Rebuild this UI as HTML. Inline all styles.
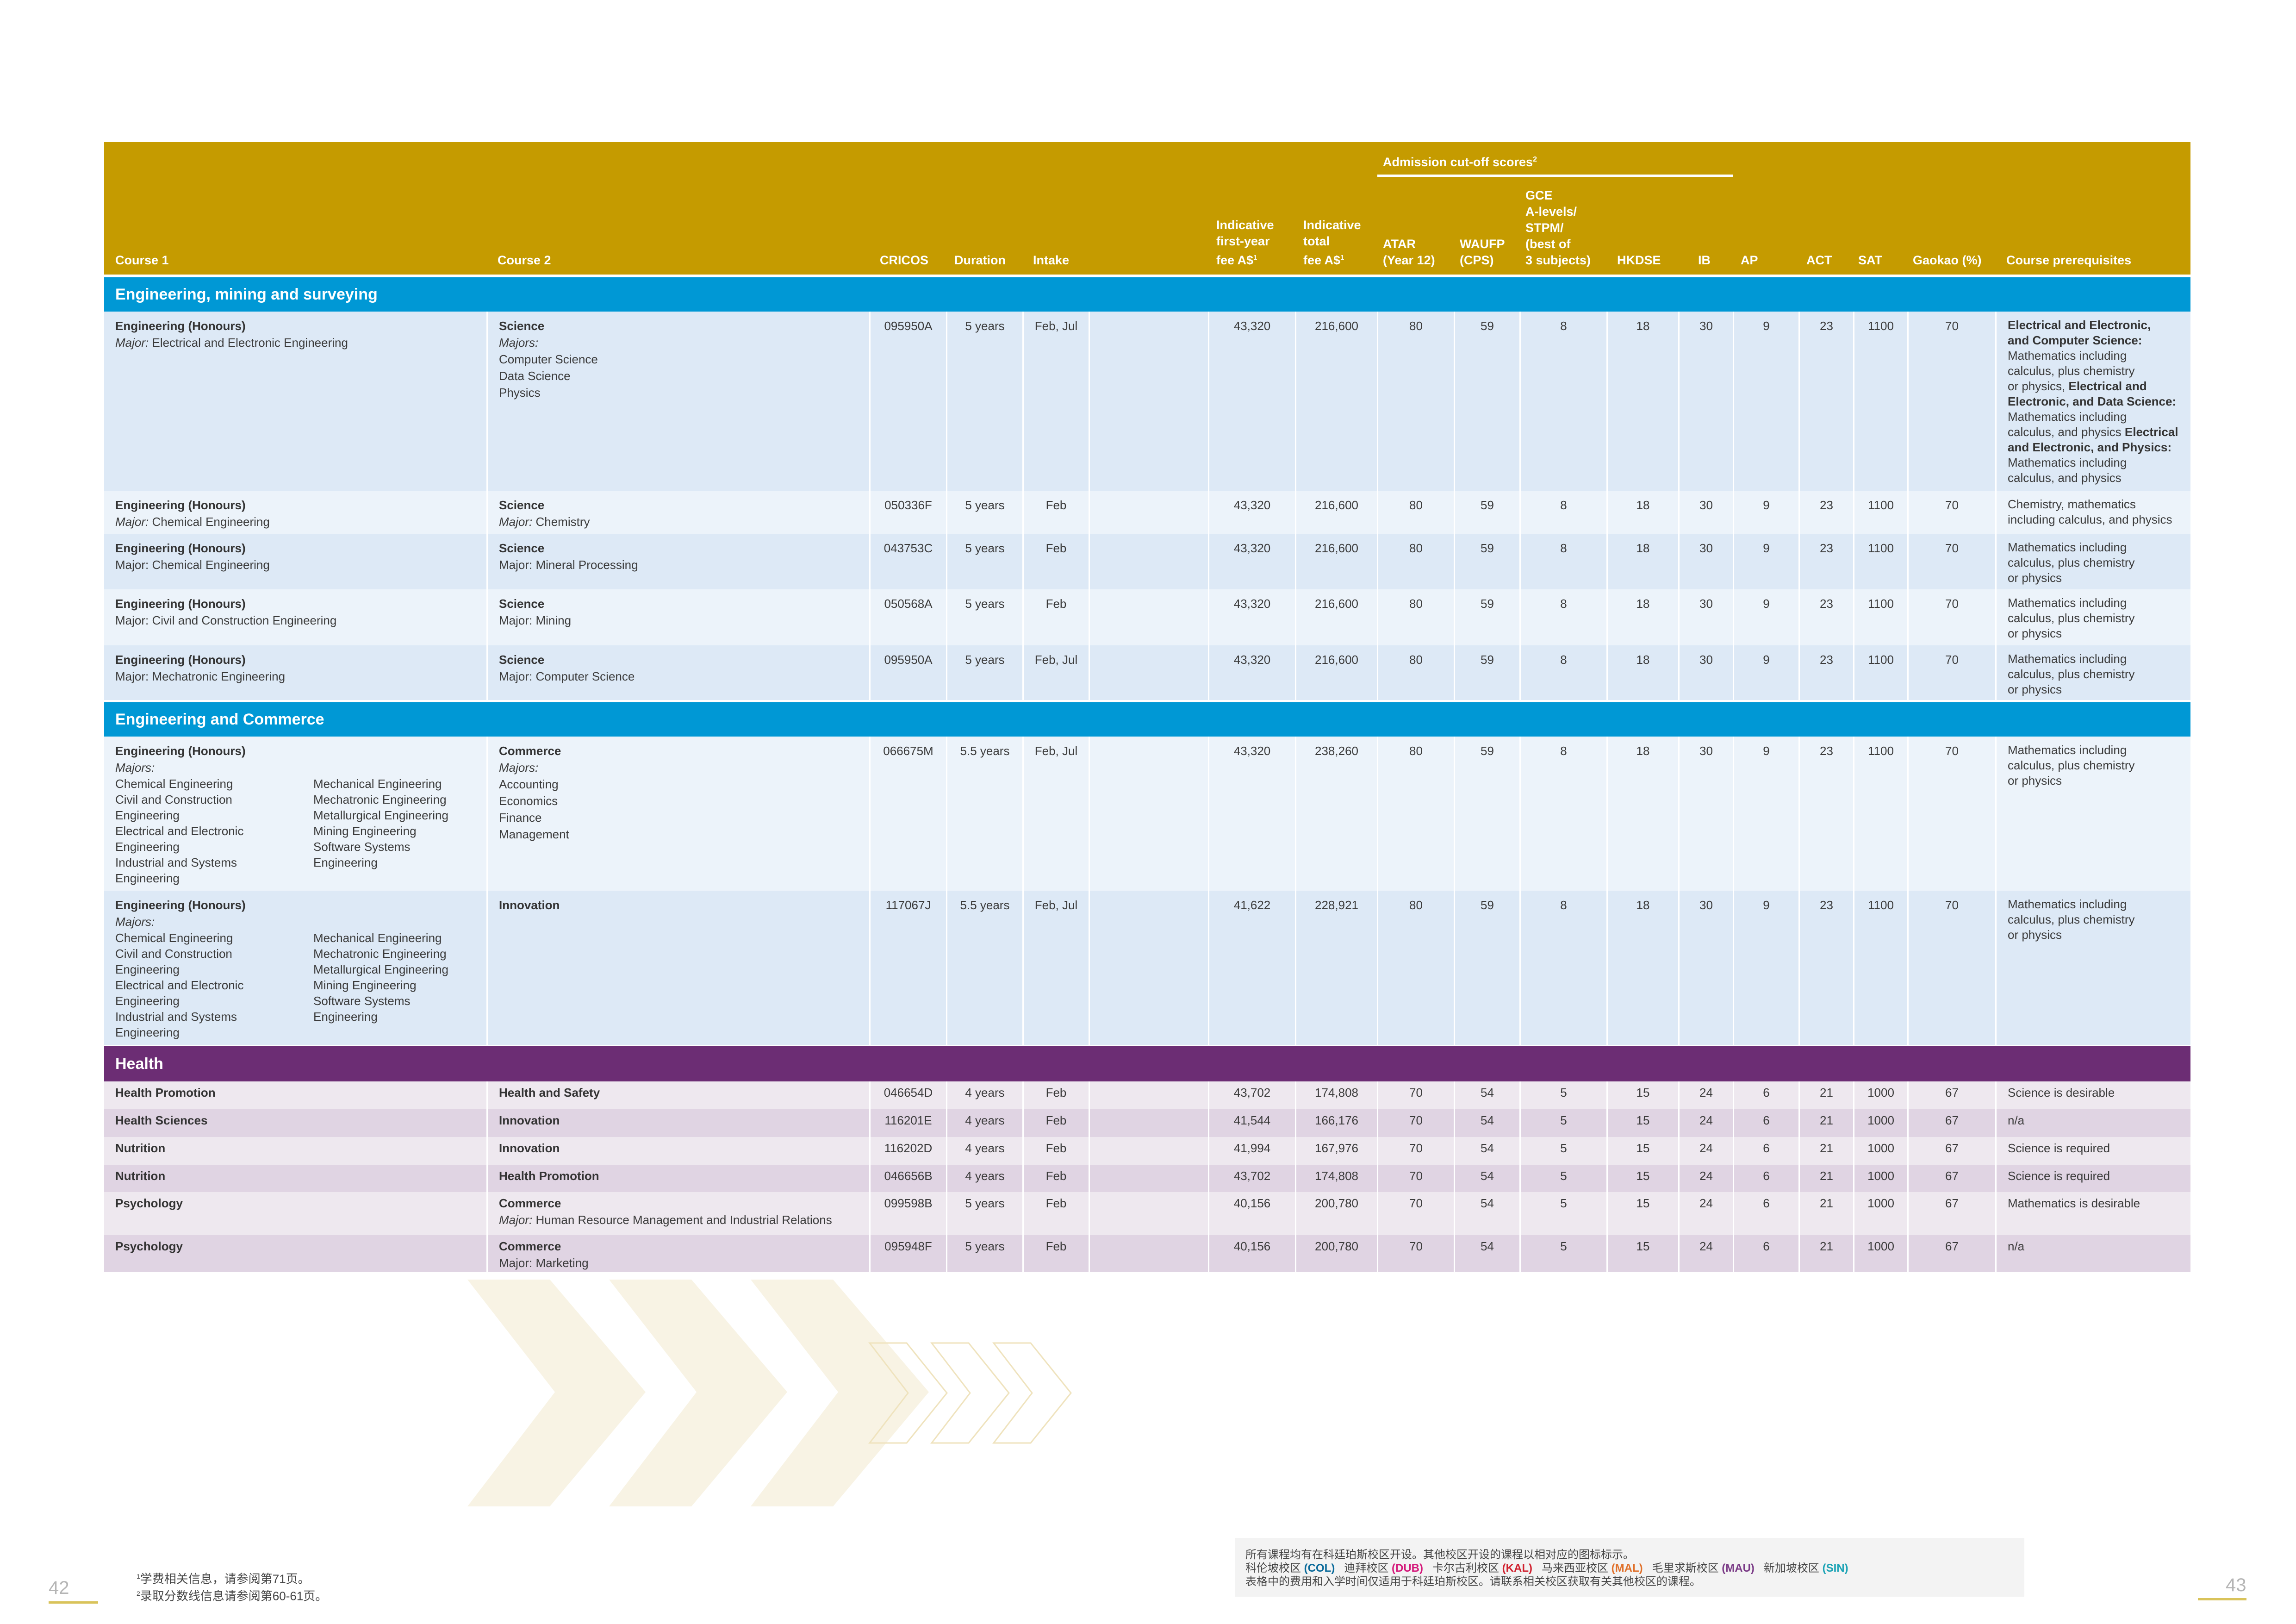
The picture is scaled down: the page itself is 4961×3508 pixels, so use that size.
<!DOCTYPE html>
<html><head><meta charset="utf-8"><style>
*{margin:0;padding:0;box-sizing:border-box}
body{width:4961px;height:3508px;background:#fff;position:relative;overflow:hidden;font-family:"Liberation Sans","Noto Sans CJK SC",sans-serif;color:#3b3b3b}
.r{position:absolute;left:225px;width:4508px;display:grid;grid-template-columns:826px 827px 166px 165px 143px 258px 188px 177px 166px 142px 188px 155px 118px 142px 118px 117px 190px 422px}
.r>div{border-left:3px solid #fff;padding:13px 10px 0 24px;font-size:26px;line-height:36px;overflow:hidden;white-space:nowrap}
.r>div:first-child{border-left:none}
.r>div.c{text-align:center;padding-left:10px}
.d{background:#DDE9F6}.l{background:#ECF3FA}
.hd{background:#E0D4E3}.hl{background:#EEE8EF}
.hd>div,.hl>div{padding-top:6px!important}
b{font-weight:bold;color:#333}
.sec{position:absolute;left:225px;width:4508px;color:#fff;font-weight:bold;font-size:34px;padding-left:24px}
.hdr{position:absolute;left:225px;top:307px;width:4508px;height:286px;background:#C59B00}
.h{position:absolute;bottom:13px;color:#fff;font-weight:bold;font-size:27px;line-height:35px;white-space:nowrap}
.two{display:flex;line-height:34px}
.two>span{display:block}
.mj{line-height:34px}
</style></head><body>
<div class="hdr">
<div style="position:absolute;left:2763px;top:28px;color:#fff;font-weight:bold;font-size:27px">Admission cut-off scores<sup style="font-size:16px">2</sup></div>
<div style="position:absolute;left:2751px;top:70px;width:768px;height:5px;background:#fff"></div>
<div class="h" style="left:24px">Course 1</div>
<div class="h" style="left:850px">Course 2</div>
<div class="h" style="left:1676px">CRICOS</div>
<div class="h" style="left:1837px">Duration</div>
<div class="h" style="left:2007px">Intake</div>
<div class="h" style="left:2403px">Indicative<br>first-year<br>fee A$<sup style="font-size:15px">1</sup></div>
<div class="h" style="left:2591px">Indicative<br>total<br>fee A$<sup style="font-size:15px">1</sup></div>
<div class="h" style="left:2763px">ATAR<br>(Year 12)</div>
<div class="h" style="left:2929px">WAUFP<br>(CPS)</div>
<div class="h" style="left:3071px">GCE<br>A-levels/<br>STPM/<br>(best of<br>3 subjects)</div>
<div class="h" style="left:3269px">HKDSE</div>
<div class="h" style="left:3444px">IB</div>
<div class="h" style="left:3536px">AP</div>
<div class="h" style="left:3678px">ACT</div>
<div class="h" style="left:3790px">SAT</div>
<div class="h" style="left:3908px">Gaokao (%)</div>
<div class="h" style="left:4110px">Course prerequisites</div>
</div>

<div class="sec" style="top:599px;height:74px;line-height:74px;background:#0098D5">Engineering, mining and surveying</div>

<div class="r d" style="top:673px;height:387px"><div><b>Engineering (Honours)</b><br><i>Major:</i> Electrical and Electronic Engineering</div><div><b>Science</b><br><i>Majors:</i><br>Computer Science<br>Data Science<br>Physics</div><div class="c">095950A</div><div class="c">5 years</div><div class="c">Feb, Jul</div><div></div><div class="c">43,320</div><div class="c">216,600</div><div class="c">80</div><div class="c">59</div><div class="c">8</div><div class="c">18</div><div class="c">30</div><div class="c">9</div><div class="c">23</div><div class="c">1100</div><div class="c">70</div><div style="line-height:33px"><b>Electrical and Electronic,<br>and Computer Science:</b><br>Mathematics including<br>calculus, plus chemistry<br>or physics, <b>Electrical and<br>Electronic, and Data Science:</b><br>Mathematics including<br>calculus, and physics <b>Electrical<br>and Electronic, and Physics:</b><br>Mathematics including<br>calculus, and physics</div></div>

<div class="r l" style="top:1060px;height:93px"><div><b>Engineering (Honours)</b><br><i>Major:</i> Chemical Engineering</div><div><b>Science</b><br><i>Major:</i> Chemistry</div><div class="c">050336F</div><div class="c">5 years</div><div class="c">Feb</div><div></div><div class="c">43,320</div><div class="c">216,600</div><div class="c">80</div><div class="c">59</div><div class="c">8</div><div class="c">18</div><div class="c">30</div><div class="c">9</div><div class="c">23</div><div class="c">1100</div><div class="c">70</div><div style="line-height:33px">Chemistry, mathematics<br>including calculus, and physics</div></div>

<div class="r d" style="top:1153px;height:120px"><div><b>Engineering (Honours)</b><br>Major: Chemical Engineering</div><div><b>Science</b><br>Major: Mineral Processing</div><div class="c">043753C</div><div class="c">5 years</div><div class="c">Feb</div><div></div><div class="c">43,320</div><div class="c">216,600</div><div class="c">80</div><div class="c">59</div><div class="c">8</div><div class="c">18</div><div class="c">30</div><div class="c">9</div><div class="c">23</div><div class="c">1100</div><div class="c">70</div><div style="line-height:33px">Mathematics including<br>calculus, plus chemistry<br>or physics</div></div>

<div class="r l" style="top:1273px;height:121px"><div><b>Engineering (Honours)</b><br>Major: Civil and Construction Engineering</div><div><b>Science</b><br>Major: Mining</div><div class="c">050568A</div><div class="c">5 years</div><div class="c">Feb</div><div></div><div class="c">43,320</div><div class="c">216,600</div><div class="c">80</div><div class="c">59</div><div class="c">8</div><div class="c">18</div><div class="c">30</div><div class="c">9</div><div class="c">23</div><div class="c">1100</div><div class="c">70</div><div style="line-height:33px">Mathematics including<br>calculus, plus chemistry<br>or physics</div></div>

<div class="r d" style="top:1394px;height:118px"><div><b>Engineering (Honours)</b><br>Major: Mechatronic Engineering</div><div><b>Science</b><br>Major: Computer Science</div><div class="c">095950A</div><div class="c">5 years</div><div class="c">Feb, Jul</div><div></div><div class="c">43,320</div><div class="c">216,600</div><div class="c">80</div><div class="c">59</div><div class="c">8</div><div class="c">18</div><div class="c">30</div><div class="c">9</div><div class="c">23</div><div class="c">1100</div><div class="c">70</div><div style="line-height:33px">Mathematics including<br>calculus, plus chemistry<br>or physics</div></div>

<div class="sec" style="top:1517px;height:74px;line-height:74px;background:#0098D5">Engineering and Commerce</div>

<div class="r l" style="top:1591px;height:333px"><div class="mj"><b>Engineering (Honours)</b><br><i>Majors:</i><div class="two"><span style="width:428px">Chemical Engineering<br>Civil and Construction<br>Engineering<br>Electrical and Electronic<br>Engineering<br>Industrial and Systems<br>Engineering</span><span>Mechanical Engineering<br>Mechatronic Engineering<br>Metallurgical Engineering<br>Mining Engineering<br>Software Systems<br>Engineering</span></div></div><div class="mj"><b>Commerce</b><br><i>Majors:</i><br>Accounting<br>Economics<br>Finance<br>Management</div><div class="c">066675M</div><div class="c">5.5 years</div><div class="c">Feb, Jul</div><div></div><div class="c">43,320</div><div class="c">238,260</div><div class="c">80</div><div class="c">59</div><div class="c">8</div><div class="c">18</div><div class="c">30</div><div class="c">9</div><div class="c">23</div><div class="c">1100</div><div class="c">70</div><div style="line-height:33px">Mathematics including<br>calculus, plus chemistry<br>or physics</div></div>

<div class="r d" style="top:1924px;height:333px"><div class="mj"><b>Engineering (Honours)</b><br><i>Majors:</i><div class="two"><span style="width:428px">Chemical Engineering<br>Civil and Construction<br>Engineering<br>Electrical and Electronic<br>Engineering<br>Industrial and Systems<br>Engineering</span><span>Mechanical Engineering<br>Mechatronic Engineering<br>Metallurgical Engineering<br>Mining Engineering<br>Software Systems<br>Engineering</span></div></div><div><b>Innovation</b></div><div class="c">117067J</div><div class="c">5.5 years</div><div class="c">Feb, Jul</div><div></div><div class="c">41,622</div><div class="c">228,921</div><div class="c">80</div><div class="c">59</div><div class="c">8</div><div class="c">18</div><div class="c">30</div><div class="c">9</div><div class="c">23</div><div class="c">1100</div><div class="c">70</div><div style="line-height:33px">Mathematics including<br>calculus, plus chemistry<br>or physics</div></div>

<div class="sec" style="top:2260px;height:76px;line-height:76px;background:#6C2D74">Health</div>

<div class="r hl" style="top:2336px;height:60px"><div><b>Health Promotion</b></div><div><b>Health and Safety</b></div><div class="c">046654D</div><div class="c">4 years</div><div class="c">Feb</div><div></div><div class="c">43,702</div><div class="c">174,808</div><div class="c">70</div><div class="c">54</div><div class="c">5</div><div class="c">15</div><div class="c">24</div><div class="c">6</div><div class="c">21</div><div class="c">1000</div><div class="c">67</div><div>Science is desirable</div></div>
<div class="r hd" style="top:2396px;height:60px"><div><b>Health Sciences</b></div><div><b>Innovation</b></div><div class="c">116201E</div><div class="c">4 years</div><div class="c">Feb</div><div></div><div class="c">41,544</div><div class="c">166,176</div><div class="c">70</div><div class="c">54</div><div class="c">5</div><div class="c">15</div><div class="c">24</div><div class="c">6</div><div class="c">21</div><div class="c">1000</div><div class="c">67</div><div>n/a</div></div>
<div class="r hl" style="top:2456px;height:60px"><div><b>Nutrition</b></div><div><b>Innovation</b></div><div class="c">116202D</div><div class="c">4 years</div><div class="c">Feb</div><div></div><div class="c">41,994</div><div class="c">167,976</div><div class="c">70</div><div class="c">54</div><div class="c">5</div><div class="c">15</div><div class="c">24</div><div class="c">6</div><div class="c">21</div><div class="c">1000</div><div class="c">67</div><div>Science is required</div></div>
<div class="r hd" style="top:2516px;height:59px"><div><b>Nutrition</b></div><div><b>Health Promotion</b></div><div class="c">046656B</div><div class="c">4 years</div><div class="c">Feb</div><div></div><div class="c">43,702</div><div class="c">174,808</div><div class="c">70</div><div class="c">54</div><div class="c">5</div><div class="c">15</div><div class="c">24</div><div class="c">6</div><div class="c">21</div><div class="c">1000</div><div class="c">67</div><div>Science is required</div></div>
<div class="r hl" style="top:2575px;height:93px"><div><b>Psychology</b></div><div><b>Commerce</b><br><i>Major:</i> Human Resource Management and Industrial Relations</div><div class="c">099598B</div><div class="c">5 years</div><div class="c">Feb</div><div></div><div class="c">40,156</div><div class="c">200,780</div><div class="c">70</div><div class="c">54</div><div class="c">5</div><div class="c">15</div><div class="c">24</div><div class="c">6</div><div class="c">21</div><div class="c">1000</div><div class="c">67</div><div>Mathematics is desirable</div></div>
<div class="r hd" style="top:2668px;height:80px"><div><b>Psychology</b></div><div><b>Commerce</b><br>Major: Marketing</div><div class="c">095948F</div><div class="c">5 years</div><div class="c">Feb</div><div></div><div class="c">40,156</div><div class="c">200,780</div><div class="c">70</div><div class="c">54</div><div class="c">5</div><div class="c">15</div><div class="c">24</div><div class="c">6</div><div class="c">21</div><div class="c">1000</div><div class="c">67</div><div>n/a</div></div>

<svg style="position:absolute;left:0;top:0" width="4961" height="3508">
<g fill="#F8F3E4">
<polygon points="1010,2764 1188,2764 1395,3007 1188,3254 1010,3254 1199,3007"/>
<polygon points="1316,2764 1494,2764 1701,3007 1494,3254 1316,3254 1505,3007"/>
<polygon points="1622,2764 1800,2764 2007,3007 1800,3254 1622,3254 1811,3007"/>
</g>
<g fill="none" stroke="#EFE3BE" stroke-width="3">
<polygon points="1879,2901 1959,2901 2046,3009 1959,3117 1879,3117 1962,3009"/>
<polygon points="2013,2901 2093,2901 2180,3009 2093,3117 2013,3117 2096,3009"/>
<polygon points="2147,2901 2227,2901 2314,3009 2227,3117 2147,3117 2230,3009"/>
</g>
<rect x="105" y="3459" width="107" height="5" fill="#D9C35A"/>
<rect x="4749" y="3452" width="105" height="5" fill="#D9C35A"/>
</svg>

<div style="position:absolute;left:105px;top:3408px;font-size:40px;color:#b5b5b5">42</div>
<div style="position:absolute;left:4809px;top:3402px;font-size:40px;color:#b5b5b5">43</div>
<div style="position:absolute;left:295px;top:3390px;font-size:26px;line-height:31px;color:#444"><sup style="font-size:14px">1</sup>学费相关信息，请参阅第71页。<br><sup style="font-size:14px">2</sup>录取分数线信息请参阅第60-61页。</div>
<div style="position:absolute;left:2669px;top:3322px;width:1705px;height:127px;background:#F3F3F3;padding:22px 0 0 22px;font-size:24px;line-height:29px;color:#444;white-space:nowrap">所有课程均有在科廷珀斯校区开设。其他校区开设的课程以相对应的图标标示。<br>科伦坡校区 <b style="color:#0A6A9A">(COL)</b>&nbsp;&nbsp; 迪拜校区 <b style="color:#D4187A">(DUB)</b>&nbsp;&nbsp; 卡尔古利校区 <b style="color:#D0202E">(KAL)</b>&nbsp;&nbsp; 马来西亚校区 <b style="color:#E0702A">(MAL)</b>&nbsp;&nbsp; 毛里求斯校区 <b style="color:#7A3A86">(MAU)</b>&nbsp;&nbsp; 新加坡校区 <b style="color:#1BA3B5">(SIN)</b><br>表格中的费用和入学时间仅适用于科廷珀斯校区。请联系相关校区获取有关其他校区的课程。</div>
</body></html>
